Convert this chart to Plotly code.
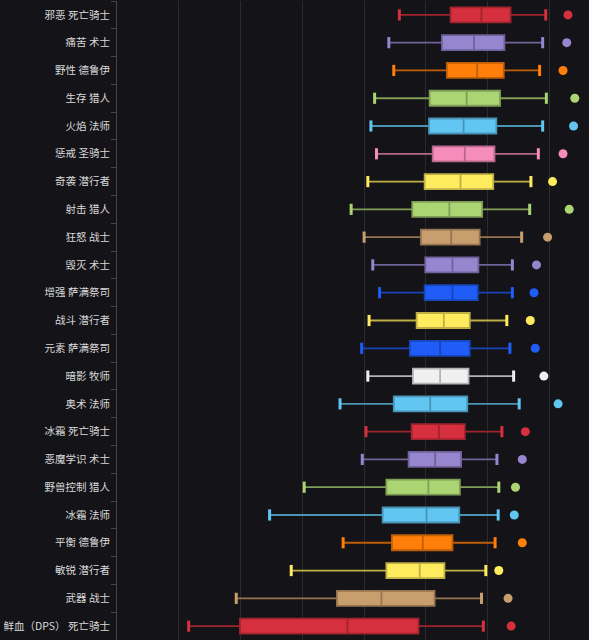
import plotly.graph_objects as go

categories = ["邪恶 死亡骑士", "痛苦 术士", "野性 德鲁伊", "生存 猎人", "火焰 法师",
              "惩戒 圣骑士", "奇袭 潜行者", "射击 猎人", "狂怒 战士", "毁灭 术士",
              "增强 萨满祭司", "战斗 潜行者", "元素 萨满祭司", "暗影 牧师", "奥术 法师",
              "冰霜 死亡骑士", "恶魔学识 术士", "野兽控制 猎人", "冰霜 法师", "平衡 德鲁伊",
              "敏锐 潜行者", "武器 战士", "鲜血（DPS） 死亡骑士"]

lower = [457, 440, 448, 417, 411, 420, 406, 379, 400, 414, 425, 408, 396, 406, 361, 403, 397, 303, 247, 366, 282, 193, 116]
q1 = [540, 526, 534, 506, 505, 511, 498, 478, 492, 499, 498, 485, 474, 479, 448, 477, 472, 436, 430, 445, 436, 356, 199]
median = [590, 578, 583, 566, 561, 563, 556, 538, 541, 543, 543, 529, 523, 523, 507, 521, 515, 504, 501, 495, 490, 428, 373]
q3 = [637, 627, 626, 620, 614, 611, 609, 591, 587, 585, 584, 571, 571, 569, 567, 563, 557, 555, 554, 543, 530, 514, 488]
upper = [694, 689, 684, 695, 689, 682, 670, 668, 655, 640, 640, 631, 636, 642, 651, 623, 615, 618, 617, 612, 597, 590, 593]
outlier = [730, 728, 722, 741, 739, 722, 705, 732, 697, 679, 675, 669, 677, 691, 714, 661, 656, 645, 643, 656, 618, 633, 638]

class_colors = {
    "死亡骑士": "#d6303e",
    "术士": "#9685cf",
    "德鲁伊": "#ff7f0a",
    "猎人": "#abd473",
    "法师": "#62c6f2",
    "圣骑士": "#f58cba",
    "潜行者": "#ffeb5e",
    "战士": "#c99e6e",
    "萨满祭司": "#1f5cf8",
    "牧师": "#f0f0f0",
}


def darker(hexc, f=0.75):
    h = hexc.lstrip("#")
    r, g, b = (int(h[i:i + 2], 16) for i in (0, 2, 4))
    return "#%02x%02x%02x" % (int(r * f), int(g * f), int(b * f))


fig = go.Figure()
for i, cat in enumerate(categories):
    col = class_colors[cat.split(" ")[-1]]
    fig.add_trace(go.Box(
        y=[cat], q1=[q1[i]], median=[median[i]], q3=[q3[i]],
        lowerfence=[lower[i]], upperfence=[upper[i]],
        orientation="h", fillcolor=col,
        line=dict(color=darker(col), width=1.8),
        whiskerwidth=0, width=0.54, boxpoints=False,
        showlegend=False, hoverinfo="skip",
    ))
    fig.add_trace(go.Scatter(
        x=[lower[i], upper[i]], y=[cat, cat], mode="markers",
        marker=dict(symbol="line-ns", size=8, line=dict(color=col, width=3)),
        showlegend=False, hoverinfo="skip",
    ))
    fig.add_trace(go.Scatter(
        x=[outlier[i]], y=[cat], mode="markers",
        marker=dict(color=col, size=9),
        showlegend=False, hoverinfo="skip",
    ))

n = len(categories)
fig.update_layout(
    width=589, height=640,
    margin=dict(l=117, r=0, t=1, b=0),
    paper_bgcolor="#141317", plot_bgcolor="#141317",
    boxmode="overlay",
    font=dict(family="Noto Sans CJK SC", size=10.5, color="#d8d8d8"),
    xaxis=dict(range=[0, 764], dtick=100, tick0=0, showgrid=True,
               gridcolor="#2b2a2f", gridwidth=1, zeroline=False,
               showticklabels=False, showline=False, automargin=False),
    yaxis=dict(categoryorder="array", categoryarray=categories,
               range=[n - 0.5, -0.5], autorange=False,
               showgrid=False, zeroline=False,
               showline=True, linecolor="#45444a", linewidth=1,
               ticks="outside", tickson="boundaries", ticklen=5,
               tickcolor="#45444a", automargin=False, ticklabelstandoff=4,
               tickfont=dict(size=10.5, color="#dadada")),
)

fig.write_html("out.html")
